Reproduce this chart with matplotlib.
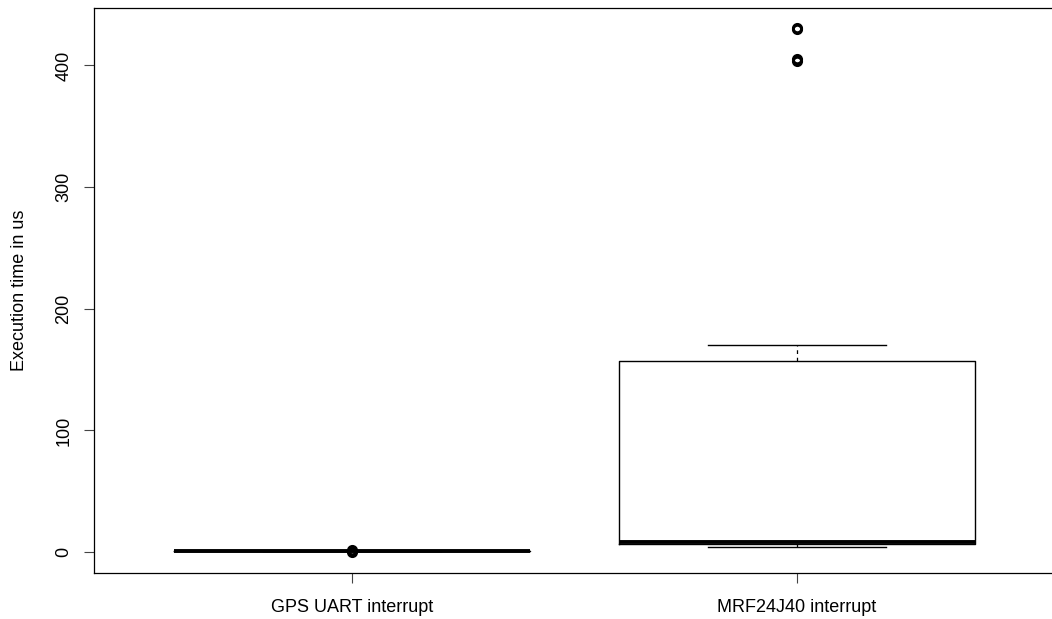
import matplotlib
matplotlib.use("Agg")
import matplotlib.pyplot as plt

plt.rcParams['font.family'] = ['Liberation Sans', 'DejaVu Sans']

categories = ["GPS UART interrupt", "MRF24J40 interrupt"]
whislo = [1, 4]
q1 = [1, 7]
med = [1, 8]
q3 = [1, 157]
whishi = [1, 170]
fliers = [[0, 2], [404, 405, 430, 431]]
yticks = [0, 100, 200, 300, 400]

stats = []
for i in range(len(categories)):
    stats.append(dict(label=categories[i], whislo=whislo[i], q1=q1[i], med=med[i],
                      q3=q3[i], whishi=whishi[i], fliers=fliers[i]))

fig = plt.figure(figsize=(10.52, 6.19), dpi=100)
ax = fig.add_axes([94/1052, 46/619, 961/1052, 565/619])

ax.bxp(stats, positions=[1, 2], widths=0.8, showfliers=True,
       boxprops=dict(color='black', linewidth=1.0),
       medianprops=dict(color='black', linewidth=2.8, solid_capstyle='butt'),
       whiskerprops=dict(color='black', linewidth=0.9, linestyle=(0, (3, 3))),
       capprops=dict(color='black', linewidth=1.0),
       capwidths=0.4,
       flierprops=dict(marker='o', markerfacecolor='none', markeredgecolor='black',
                       markeredgewidth=2.0, markersize=6))

ax.set_xlim(0.42, 2.58)
ax.set_ylim(-17.2, 447.2)
ax.set_yticks(yticks)
ax.set_yticklabels([str(v) for v in yticks], rotation=90, va='center')
ax.set_xticks([1, 2])
ax.set_xticklabels(categories)
ax.tick_params(axis='both', length=7.5, width=0.8, labelsize=13, color='#444444')
ax.tick_params(axis='y', pad=8)
ax.tick_params(axis='x', pad=11)
ax.set_ylabel("Execution time in us", fontsize=13, labelpad=20)
for s in ax.spines.values():
    s.set_linewidth(0.9)
    s.set_color('black')

fig.savefig("out.png", dpi=100)
